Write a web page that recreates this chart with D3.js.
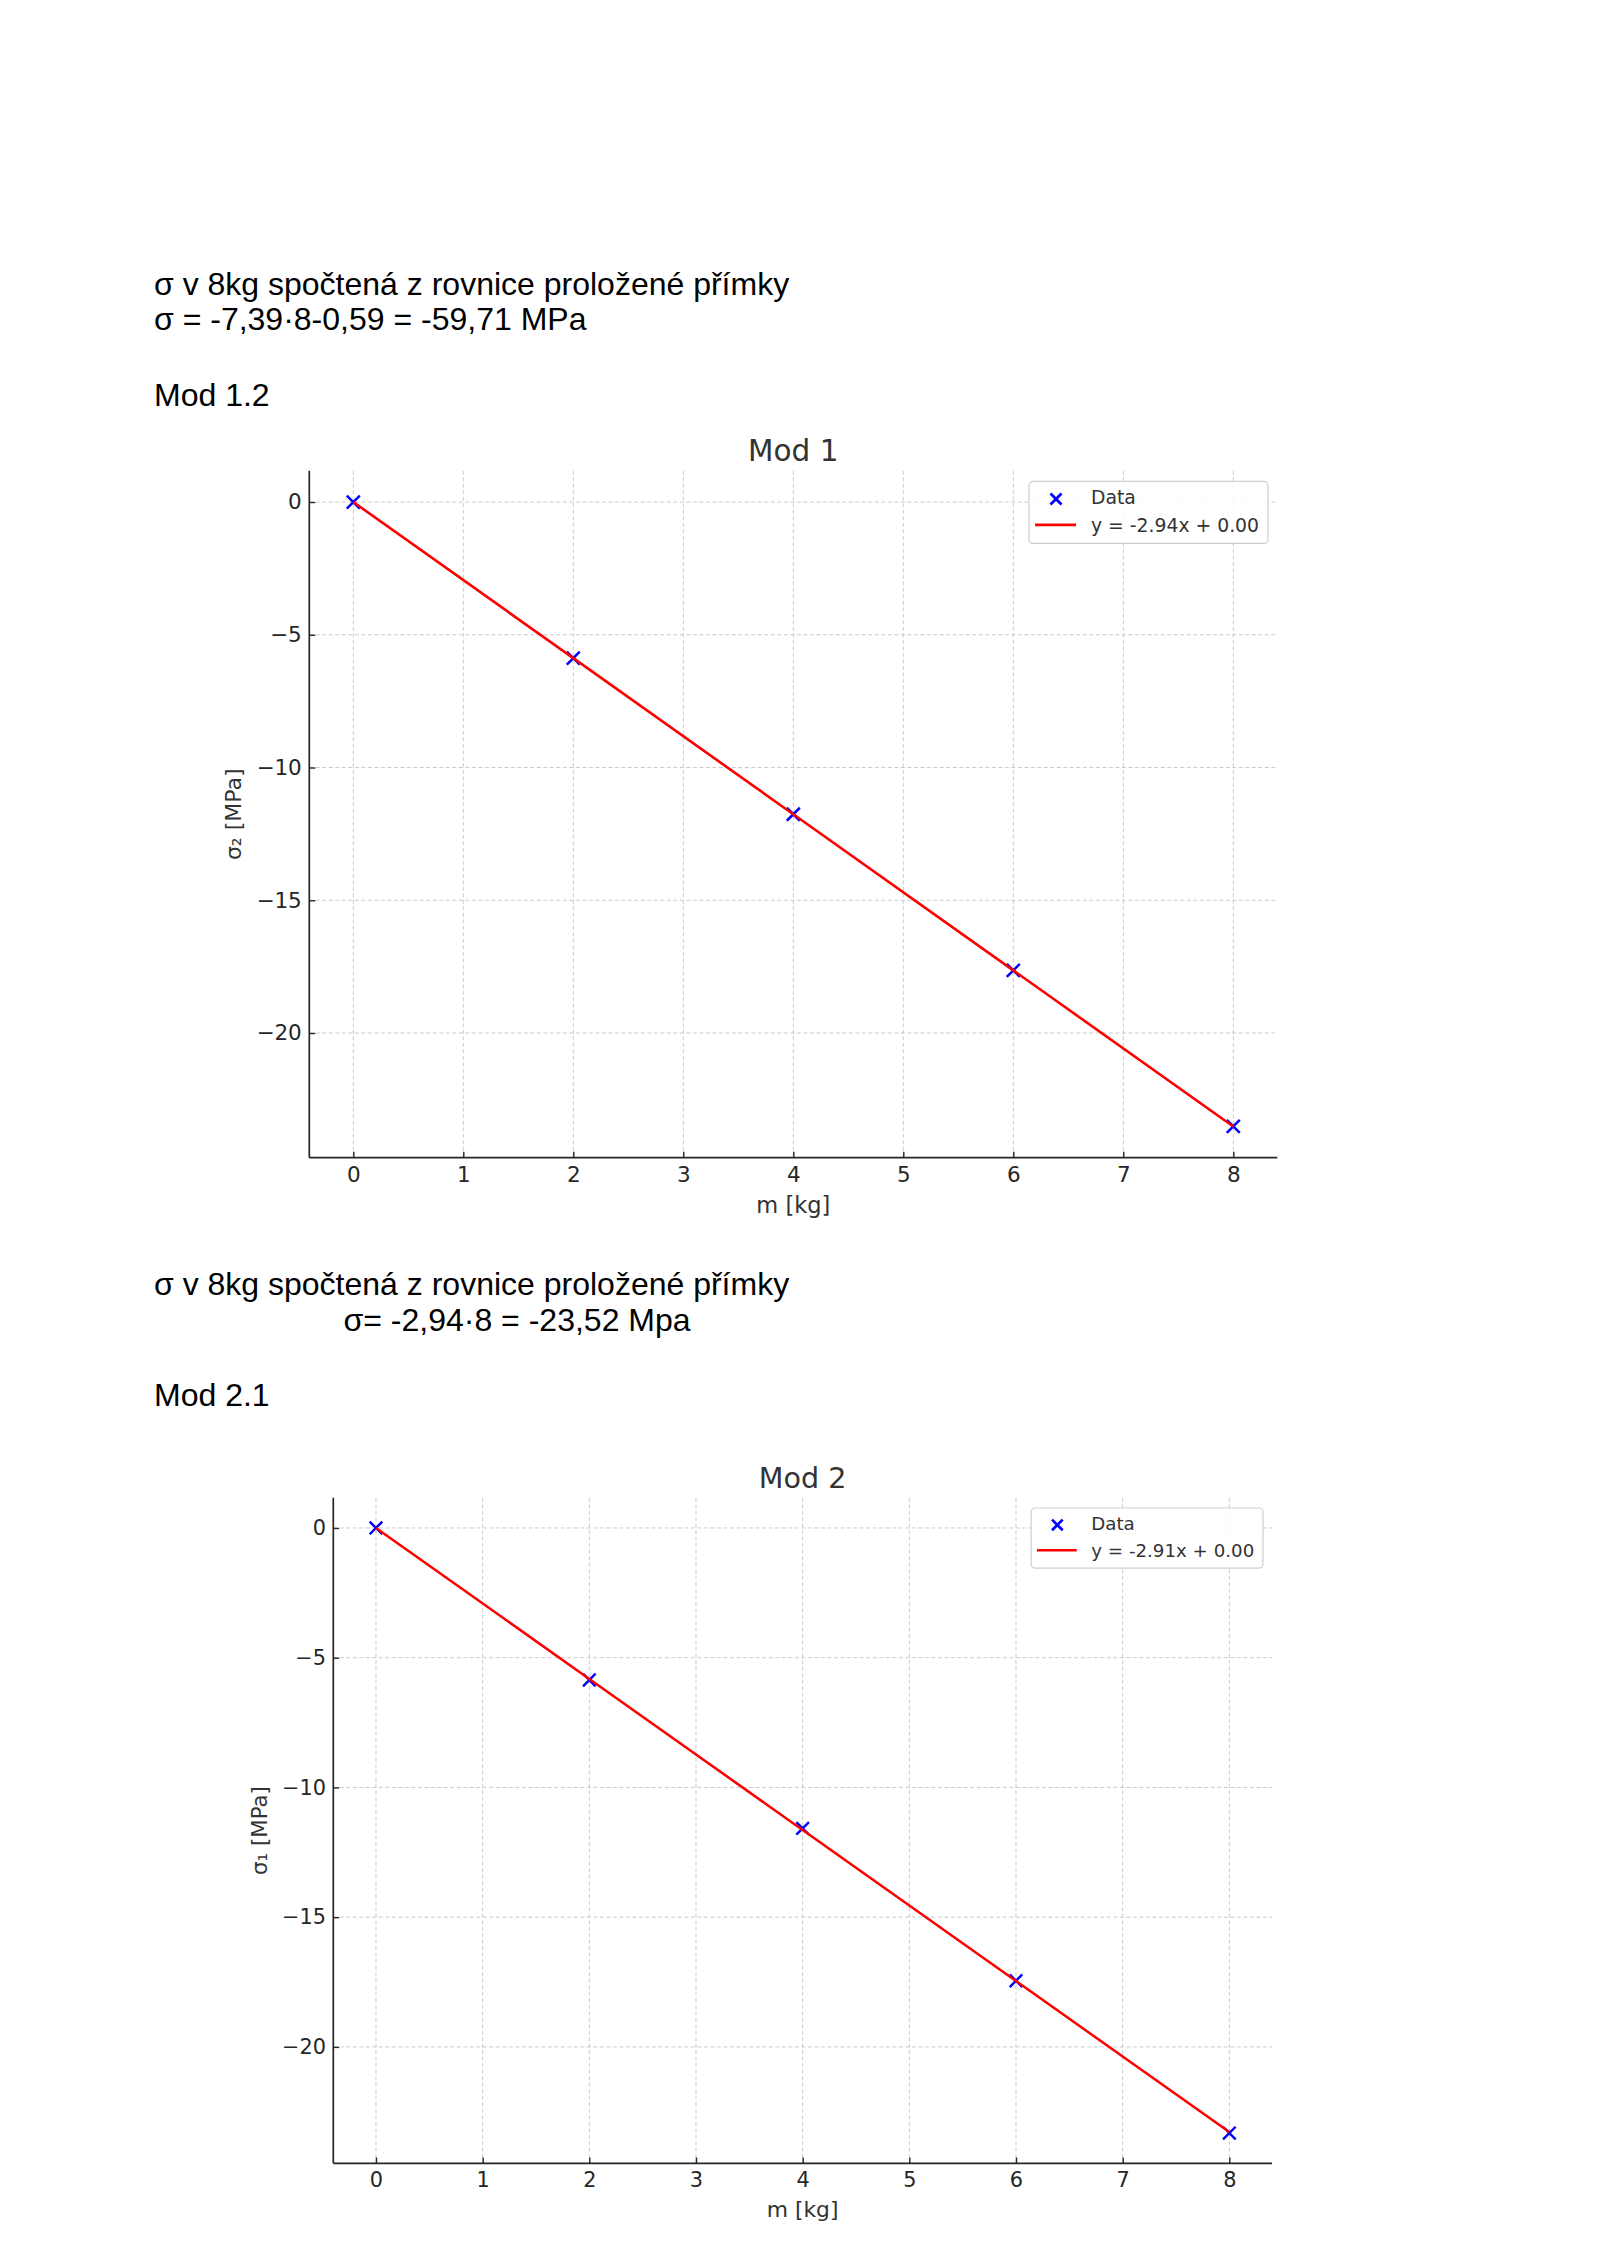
<!DOCTYPE html>
<html>
<head>
<meta charset="utf-8">
<script src="https://cdn.jsdelivr.net/npm/d3@7"></script>
<style>
  html, body { margin: 0; padding: 0; background: #fff; }
  svg { display: block; }
</style>
</head>
<body>
<div id="page"></div>
<script>
// data
const massKg = [0, 2, 4, 6, 8];
const sigma2Mod1 = [0, -5.88, -11.76, -17.64, -23.52];
const sigma1Mod2 = [0, -5.86, -11.58, -17.45, -23.32];
const fitSlopes = [-2.94, -2.91];
const fitIntercepts = [0.00, 0.00];
const xTicks = [0, 1, 2, 3, 4, 5, 6, 7, 8];
const yTicks = [0, -5, -10, -15, -20];
const panelTitles = ["Mod 1", "Mod 2"];
const yLabels = ["σ₂ [MPa]", "σ₁ [MPa]"];
const xLabel = "m [kg]";
const dataLabel = "Data";

// document text
const noteLines1 = ["σ v 8kg spočtená z rovnice proložené přímky", "σ = -7,39·8-0,59 = -59,71 MPa"];
const heading1 = "Mod 1.2";
const noteLines2 = ["σ v 8kg spočtená z rovnice proložené přímky", "σ= -2,94·8 = -23,52 Mpa"];
const heading2 = "Mod 2.1";

const W = 1600, H = 2263;
const svg = d3.select("#page").append("svg")
    .attr("width", W).attr("height", H)
    .attr("viewBox", `0 0 ${W} ${H}`);
svg.append("rect").attr("width", W).attr("height", H).attr("fill", "#fff");

var docFont = "'Liberation Sans', Arial, sans-serif";
var plotFont = "'DejaVu Sans', sans-serif";

function docText(x, y, str) {
    svg.append("text")
        .attr("x", x).attr("y", y)
        .attr("font-family", docFont)
        .attr("font-size", 32)
        .attr("fill", "#000")
        .text(str);
}

docText(154, 295, noteLines1[0]);
docText(154, 330, noteLines1[1]);
docText(154, 405.5, heading1);

docText(154, 1295, noteLines2[0]);
docText(343.5, 1331, noteLines2[1]);
docText(154, 1405.5, heading2);

var panels = [
    { box: { left: 309.3, right: 1277.3, top: 470.8, bottom: 1157.7 }, s: 1,
      ys: sigma2Mod1, title: panelTitles[0], ylab: yLabels[0], m: fitSlopes[0], b: fitIntercepts[0] },
    { box: { left: 333.3, right: 1272, top: 1497.7, bottom: 2163.3 }, s: 0.97,
      ys: sigma1Mod2, title: panelTitles[1], ylab: yLabels[1], m: fitSlopes[1], b: fitIntercepts[1] }
];

function padded(ext) {
    var d = (ext[1] - ext[0]) * 0.05;
    return [ext[0] - d, ext[1] + d];
}

function fmt(v) {
    return v < 0 ? "\u2212" + Math.abs(v) : String(v);
}

function drawPanel(p) {
    var b = p.box, s = p.s;
    var fitY = massKg.map(x => p.m * x + p.b);

    var x = d3.scaleLinear()
        .domain(padded(d3.extent(massKg)))
        .range([b.left, b.right]);
    var y = d3.scaleLinear()
        .domain(padded(d3.extent(p.ys.concat(fitY))))
        .range([b.bottom, b.top]);

    var g = svg.append("g").attr("font-family", plotFont);

    // grid
    g.append("g").selectAll("line").data(xTicks).join("line")
        .attr("x1", d => x(d)).attr("x2", d => x(d))
        .attr("y1", b.top).attr("y2", b.bottom)
        .attr("stroke", "#cbcbcb").attr("stroke-width", 1)
        .attr("stroke-dasharray", "4,2.5");
    g.append("g").selectAll("line").data(yTicks).join("line")
        .attr("x1", b.left).attr("x2", b.right)
        .attr("y1", d => y(d)).attr("y2", d => y(d))
        .attr("stroke", "#cbcbcb").attr("stroke-width", 1)
        .attr("stroke-dasharray", "4,2.5");

    // axes, ticks pointing inward
    var xAxis = d3.axisBottom(x).tickValues(xTicks)
        .tickSizeInner(-6 * s).tickSizeOuter(0).tickPadding(9.5 * s)
        .tickFormat(d3.format("d"));
    var yAxis = d3.axisLeft(y).tickValues(yTicks)
        .tickSizeInner(-6 * s).tickSizeOuter(0).tickPadding(7.5 * s)
        .tickFormat(fmt);

    var gx = g.append("g").attr("transform", `translate(0,${b.bottom})`).call(xAxis);
    var gy = g.append("g").attr("transform", `translate(${b.left},0)`).call(yAxis);

    [gx, gy].forEach(a => {
        a.select(".domain").attr("stroke", "#262626").attr("stroke-width", 1.7);
        a.selectAll(".tick line").attr("stroke", "#262626").attr("stroke-width", 1.4);
        a.selectAll(".tick text")
            .attr("fill", "#262626")
            .attr("font-family", plotFont)
            .attr("font-size", 21.5 * s);
    });
    gx.select(".domain").attr("d", `M${b.left},0H${b.right}`);
    gy.select(".domain").attr("d", `M0,${b.top}V${b.bottom}`);

    // markers
    var ms = 6.5 * s;
    g.append("g").selectAll("path").data(massKg).join("path")
        .attr("d", (d, i) => {
            var cx = x(d), cy = y(p.ys[i]);
            return `M${cx - ms},${cy - ms}L${cx + ms},${cy + ms}M${cx - ms},${cy + ms}L${cx + ms},${cy - ms}`;
        })
        .attr("stroke", "#0000ff").attr("stroke-width", 2.5 * s).attr("fill", "none");

    // fit line
    var line = d3.line().x(d => x(d)).y((d, i) => y(fitY[i]));
    g.append("path").datum(massKg)
        .attr("d", line)
        .attr("stroke", "#ff0000").attr("stroke-width", 2.6 * s).attr("fill", "none");

    // title and labels
    var cx = (b.left + b.right) / 2;
    g.append("text")
        .attr("x", cx).attr("y", b.top - 10 * s)
        .attr("text-anchor", "middle")
        .attr("font-size", 29.5 * s).attr("fill", "#333")
        .text(p.title);
    g.append("text")
        .attr("x", cx).attr("y", b.bottom + 55 * s)
        .attr("text-anchor", "middle")
        .attr("font-size", 22.5 * s).attr("fill", "#333")
        .text(xLabel);
    g.append("text")
        .attr("transform", `translate(${b.left - 68 * s},${(b.top + b.bottom) / 2}) rotate(-90)`)
        .attr("text-anchor", "middle")
        .attr("font-size", 22 * s).attr("fill", "#333")
        .text(p.ylab);

    // legend
    var lw = 239 * s, lh = 62 * s;
    var lx = b.right - 9.3 * s - lw, ly = b.top + 10.6 * s;
    var lg = g.append("g").attr("transform", `translate(${lx},${ly})`);
    lg.append("rect")
        .attr("width", lw).attr("height", lh)
        .attr("rx", 4 * s)
        .attr("fill", "#fff").attr("fill-opacity", 0.85)
        .attr("stroke", "#cfcfcf").attr("stroke-width", 1.2);
    var mx = 27 * s, my = 17.5 * s, lm = 5.5 * s;
    lg.append("path")
        .attr("d", `M${mx - lm},${my - lm}L${mx + lm},${my + lm}M${mx - lm},${my + lm}L${mx + lm},${my - lm}`)
        .attr("stroke", "#0000ff").attr("stroke-width", 2.8 * s);
    lg.append("line")
        .attr("x1", 6 * s).attr("x2", 47 * s)
        .attr("y1", 43.5 * s).attr("y2", 43.5 * s)
        .attr("stroke", "#ff0000").attr("stroke-width", 2.6 * s);
    lg.append("text")
        .attr("x", 62 * s).attr("y", 23 * s)
        .attr("font-size", 18.8 * s).attr("fill", "#333")
        .text(dataLabel);
    lg.append("text")
        .attr("x", 62 * s).attr("y", 50.5 * s)
        .attr("font-size", 18.8 * s).attr("fill", "#333")
        .text(`y = ${p.m.toFixed(2)}x + ${p.b.toFixed(2)}`);
}

panels.forEach(drawPanel);
</script>
</body>
</html>
